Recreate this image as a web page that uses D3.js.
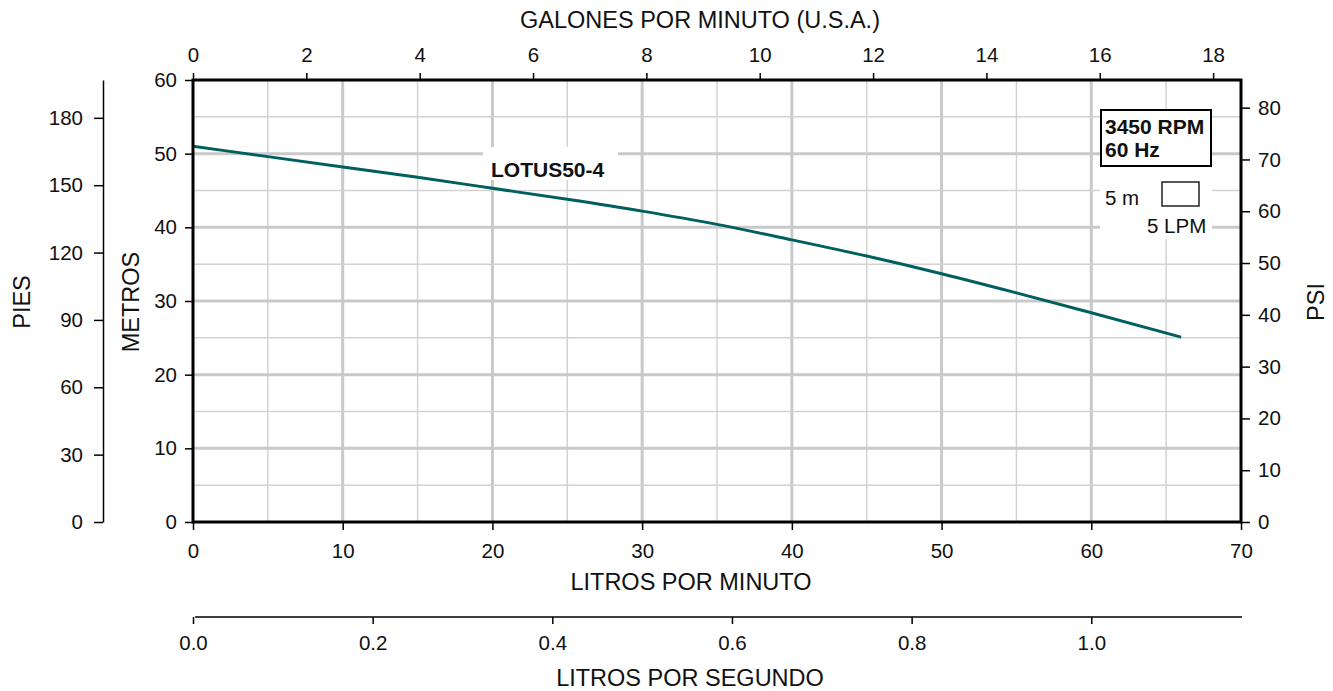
<!DOCTYPE html>
<html>
<head>
<meta charset="utf-8">
<script src="https://cdn.jsdelivr.net/npm/d3@7"></script>
<style>
  html, body { margin: 0; padding: 0; background: #fff; }
  svg { display: block; font-family: "Liberation Sans", Arial, sans-serif; }
  .tick text { font-size: 20.5px; fill: #111; }
</style>
</head>
<body>
<svg id="chart" width="1333" height="691"></svg>
<script>
// ---- data ----
const flowLPM = [0, 5, 10, 15, 20, 25, 30, 35, 40, 45, 50, 55, 60, 66];
const headM   = [51.0, 49.6, 48.2, 46.8, 45.3, 43.8, 42.2, 40.4, 38.3, 36.1, 33.7, 31.1, 28.4, 25.1];
const seriesName = "LOTUS50-4";
const lpmTicks  = [0, 10, 20, 30, 40, 50, 60, 70];
const gpmTicks  = [0, 2, 4, 6, 8, 10, 12, 14, 16, 18];
const mTicks    = [0, 10, 20, 30, 40, 50, 60];
const ftTicks   = [0, 30, 60, 90, 120, 150, 180];
const psiTicks  = [0, 10, 20, 30, 40, 50, 60, 70, 80];
const lpsTicks  = [0, 0.2, 0.4, 0.6, 0.8, 1.0];
const legendLines = ["3450 RPM", "60 Hz"];
const scaleLabels = ["5 m", "5 LPM"];

// ---- layout ----
const L = 193, R = 1241, T = 80, B = 522;
const svg = d3.select("#chart");

const x = d3.scaleLinear().domain([0, 70]).range([L, R]);
const y = d3.scaleLinear().domain([0, 60]).range([B, T]);
const xg = d3.scaleLinear().domain([0, 70 / 3.785411784]).range([L, R]);
const xl = d3.scaleLinear().domain([0, 70 / 60]).range([L, R]);
const yf = d3.scaleLinear().domain([0, 60 * 3.28084]).range([B, T]);
const yp = d3.scaleLinear().domain([0, 60 / 0.703070]).range([B, T]);

// ---- grid ----
const grid = svg.append("g");
d3.range(5, 70, 5).forEach(v => {
  grid.append("line").attr("x1", x(v)).attr("x2", x(v)).attr("y1", T).attr("y2", B)
    .attr("stroke", v % 10 === 0 ? "#c9c9c9" : "#d2d2d2")
    .attr("stroke-width", v % 10 === 0 ? 3 : 1.5);
});
d3.range(5, 60, 5).forEach(v => {
  grid.append("line").attr("x1", L).attr("x2", R).attr("y1", y(v)).attr("y2", y(v))
    .attr("stroke", v % 10 === 0 ? "#c9c9c9" : "#d2d2d2")
    .attr("stroke-width", v % 10 === 0 ? 3 : 1.5);
});

// white backgrounds for labels
svg.append("rect").attr("x", 483).attr("y", 147).attr("width", 135).attr("height", 33).attr("fill", "#fff");
svg.append("rect").attr("x", 1100).attr("y", 110).attr("width", 112).attr("height", 129).attr("fill", "#fff");

// ---- curve ----
const line = d3.line().x((d, i) => x(flowLPM[i])).y(d => y(d)).curve(d3.curveMonotoneX);
svg.append("path").datum(headM).attr("d", line)
  .attr("fill", "none").attr("stroke", "#00605f").attr("stroke-width", 3);

// ---- frame ----
svg.append("rect").attr("x", L).attr("y", T).attr("width", R - L).attr("height", B - T)
  .attr("fill", "none").attr("stroke", "#000").attr("stroke-width", 3);

function styleAxis(g, w) {
  g.selectAll(".domain").attr("stroke", "#000").attr("stroke-width", w);
  g.selectAll(".tick line").attr("stroke", "#000").attr("stroke-width", 1.5);
  g.selectAll(".tick text").attr("font-family", "Liberation Sans, Arial, sans-serif");
}

// bottom LPM
const gB = svg.append("g").attr("transform", `translate(0,${B})`)
  .call(d3.axisBottom(x).tickValues(lpmTicks).tickSize(8).tickSizeOuter(0).tickPadding(13));
gB.select(".domain").remove(); styleAxis(gB, 3);

// top GPM
const gT = svg.append("g").attr("transform", `translate(0,${T})`)
  .call(d3.axisTop(xg).tickValues(gpmTicks).tickSize(7).tickSizeOuter(0).tickPadding(11));
gT.select(".domain").remove(); styleAxis(gT, 3);

// left metros
const gM = svg.append("g").attr("transform", `translate(${L},0)`)
  .call(d3.axisLeft(y).tickValues(mTicks).tickSize(8).tickSizeOuter(0).tickPadding(8));
gM.select(".domain").remove(); styleAxis(gM, 3);

// far left feet
const gF = svg.append("g").attr("transform", `translate(103,0)`)
  .call(d3.axisLeft(yf).tickValues(ftTicks).tickSize(9).tickSizeOuter(0).tickPadding(11));
styleAxis(gF, 1.5);

// right psi
const gP = svg.append("g").attr("transform", `translate(${R},0)`)
  .call(d3.axisRight(yp).tickValues(psiTicks).tickSize(9).tickSizeOuter(0).tickPadding(8));
gP.select(".domain").remove(); styleAxis(gP, 3);

// bottom LPS
const gS = svg.append("g").attr("transform", `translate(0,617)`)
  .call(d3.axisBottom(xl).tickValues(lpsTicks).tickFormat(d3.format(".1f")).tickSize(7).tickSizeOuter(0).tickPadding(11));
styleAxis(gS, 1.5);
gS.select(".domain").attr("d", `M195,0H1242`);

// ---- titles ----
const title = (txt, tx, ty, rot) => svg.append("text").text(txt)
  .attr("transform", `translate(${tx},${ty})` + (rot ? ` rotate(${rot})` : ""))
  .attr("text-anchor", "middle").attr("font-size", 23.5).attr("fill", "#111");
title("GALONES POR MINUTO (U.S.A.)", 700, 28);
title("LITROS POR MINUTO", 691, 590);
title("LITROS POR SEGUNDO", 690, 686);
title("PIES", 30, 302, -90);
title("METROS", 139, 302, -90);
title("PSI", 1324, 302, -90);

// series label
svg.append("text").text(seriesName).attr("x", 491).attr("y", 177)
  .attr("font-size", 21).attr("font-weight", "bold").attr("fill", "#111");

// legend box
svg.append("rect").attr("x", 1101).attr("y", 110).attr("width", 110).attr("height", 56)
  .attr("fill", "#fff").attr("stroke", "#000").attr("stroke-width", 2);
legendLines.forEach((t, i) => svg.append("text").text(t)
  .attr("x", 1105).attr("y", 134 + i * 23).attr("font-size", 21).attr("font-weight", "bold").attr("fill", "#111"));

// scale box
svg.append("rect").attr("x", 1162).attr("y", 182).attr("width", 37).attr("height", 24)
  .attr("fill", "#fff").attr("stroke", "#222").attr("stroke-width", 1.5);
svg.append("text").text(scaleLabels[0]).attr("x", 1105).attr("y", 205).attr("font-size", 20.5).attr("fill", "#111");
svg.append("text").text(scaleLabels[1]).attr("x", 1147).attr("y", 233).attr("font-size", 20.5).attr("fill", "#111");
</script>
</body>
</html>
